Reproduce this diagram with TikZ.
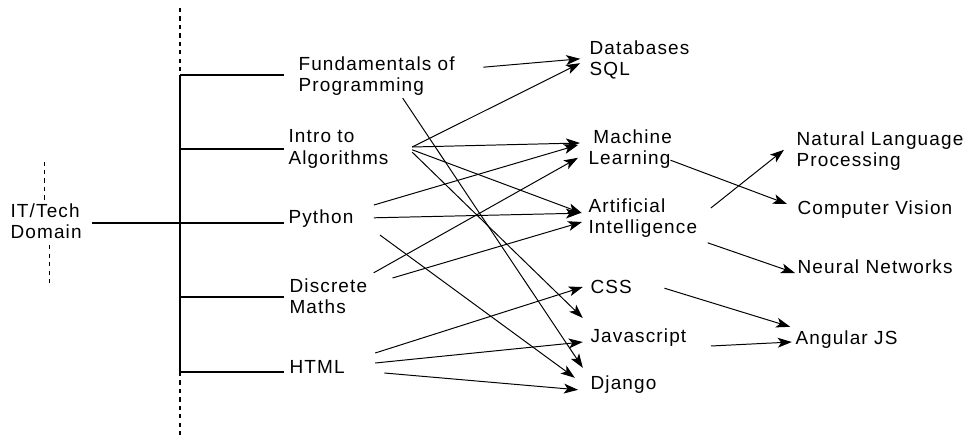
\documentclass[tikz,border=0pt]{standalone}
\usepackage{fontspec}
\setmainfont{Liberation Sans}[LetterSpace=6]
\usepackage{tikz}
\usetikzlibrary{arrows.meta}

\begin{document}
\begin{tikzpicture}[line width=0.8pt,
  lbl/.style={inner sep=0pt,anchor=west,align=left,font=\fontsize{13.5}{15.2}\selectfont},
  link/.style={->,line width=0.7pt},
  >={Stealth[length=10pt,width=7pt,inset=2.5pt]}]
\useasboundingbox (0,0) rectangle (24.225,-11);

\node[lbl] (dom) at (0.25,-5.525) {IT/Tech\\Domain};

\node[lbl] (fund) at (7.45,-1.9) {Fundamentals of\\Programming};
\node[lbl] (intro) at (7.2,-3.725) {Intro to\\Algorithms};
\node[lbl] (python) at (7.2,-5.475) {Python};
\node[lbl] (discrete) at (7.225,-7.4) {Discrete\\Maths};
\node[lbl] (html) at (7.225,-9.175) {HTML};

\node[lbl] (db) at (14.725,-1.5) {Databases\\SQL};
\node[lbl] (ml) at (14.7,-3.725) {\hspace*{0.12cm}Machine\\Learning};
\node[lbl] (ai) at (14.7,-5.45) {Artificial\\Intelligence};
\node[lbl] (css) at (14.75,-7.175) {CSS};
\node[lbl] (js) at (14.75,-8.45) {Javascript};
\node[lbl] (django) at (14.75,-9.625) {Django};

\node[lbl] (nlp) at (19.9,-3.775) {Natural Language\\Processing};
\node[lbl] (cv) at (19.925,-5.25) {Computer Vision};
\node[lbl] (nn) at (19.925,-6.675) {Neural Networks};
\node[lbl] (ang) at (19.875,-8.5) {Angular JS};

\coordinate (stop) at (4.5,-0.2);
\coordinate (s1) at (4.5,-1.875);
\coordinate (s2) at (4.5,-3.725);
\coordinate (s3) at (4.5,-5.575);
\coordinate (s4) at (4.5,-7.425);
\coordinate (s5) at (4.5,-9.3);
\coordinate (sbot) at (4.5,-10.925);

\draw[dashed] (stop) -- (s1);
\draw (s1) -- (s5);
\draw[dashed] (s5) -- (sbot);
\foreach \s in {s1,s2,s3,s4,s5}
  \draw (\s) -- ([xshift=-0.1cm]\s -| intro.west);
\draw ([xshift=0.25cm]dom.east |- s3) -- (s3);
\draw[dashed] ([shift={(-0.05,0.08)}]dom.north) -- ++(0,1);
\draw[dashed] ([shift={(0.08,-0.15)}]dom.south) -- ++(0,-1.05);

\draw[link] ([shift={(0.7,0.22)}]fund.east) -- ([shift={(-0.22,0.03)}]db.west);
\draw[link] ([shift={(0.65,-0.05)}]fund.south) -- ([shift={(-0.18,0.43)}]django.west);
\draw[link] ([shift={(0.58,0.05)}]intro.east) -- ([shift={(-0.22,-0.08)}]db.west);
\draw[link] ([shift={(0.58,0.05)}]intro.east) -- ([shift={(-0.2,0.15)}]ml.west);
\draw[link] ([shift={(0.58,-0.02)}]intro.east) -- ([shift={(-0.15,0.12)}]ai.west);
\draw[link] ([shift={(0.58,-0.08)}]intro.east) -- ([shift={(-0.18,0.5)}]js.west);
\draw[link] ([shift={(0.5,0.35)}]python.east) -- ([shift={(-0.25,0.1)}]ml.west);
\draw[link] ([shift={(0.5,0.03)}]python.east) -- ([shift={(-0.2,0.12)}]ai.west);
\draw[link] ([shift={(0.65,-0.4)}]python.east) -- ([shift={(-0.38,0.18)}]django.west);
\draw[link] ([shift={(0.15,0.58)}]discrete.east) -- ([shift={(-0.25,-0.22)}]ml.west);
\draw[link] ([shift={(0.62,0.45)}]discrete.east) -- ([shift={(-0.15,-0.1)}]ai.west);
\draw[link] ([shift={(0.75,0.35)}]html.east) -- ([shift={(-0.18,0)}]css.west);
\draw[link] ([shift={(0.75,0.1)}]html.east) -- ([shift={(-0.18,-0.1)}]js.west);
\draw[link] ([shift={(0.98,-0.15)}]html.east) -- ([shift={(-0.3,-0.12)}]django.west);

\draw[link] ([shift={(-0.05,-0.28)}]ml.east) -- ([shift={(-0.25,0.15)}]cv.west);
\draw[link] ([shift={(0.33,0.25)}]ai.east) -- ([shift={(-0.3,0.03)}]nlp.west);
\draw[link] ([shift={(0.25,-0.62)}]ai.east) -- ([shift={(-0.05,-0.15)}]nn.west);
\draw[link] ([shift={(0.8,-0.03)}]css.east) -- ([shift={(-0.12,0.33)}]ang.west);
\draw[link] ([shift={(0.6,-0.2)}]js.east) -- ([shift={(-0.08,-0.05)}]ang.west);

\end{tikzpicture}
\end{document}
